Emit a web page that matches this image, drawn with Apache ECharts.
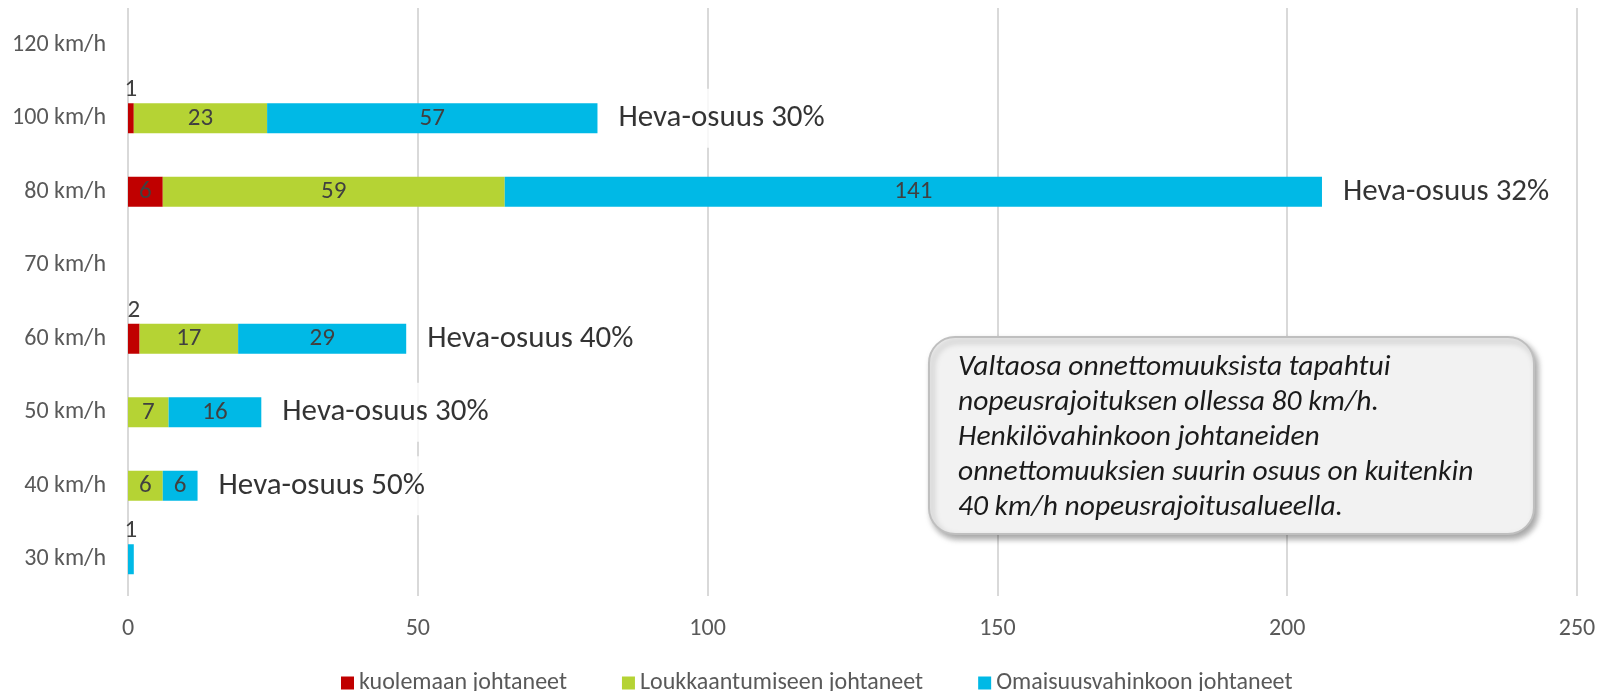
<!DOCTYPE html>
<html>
<head>
<meta charset="utf-8">
<script src="https://cdn.jsdelivr.net/npm/echarts@6/dist/echarts.min.js"></script>
<style>
  html, body { margin: 0; padding: 0; background: #fff; }
  #chart { width: 1608px; height: 691px; }
</style>
</head>
<body>
<div id="chart"></div>
<script>
// nopeusrajoitukset (alhaalta ylös)
const categories = ['30 km/h', '40 km/h', '50 km/h', '60 km/h', '70 km/h', '80 km/h', '100 km/h', '120 km/h']
const kuolema = [null, null, null, 2, null, 6, 1, null]
const loukkaantuminen = [null, 6, 7, 17, null, 59, 23, null]
const omaisuus = [1, 6, 16, 29, null, 141, 57, null]
// henkilövahinkojen osuus (%)
const hevaOsuus = [null, 50, 30, 40, null, 32, 30, null]
const xTicks = [0, 50, 100, 150, 200, 250]

const noteLines = [
  'Valtaosa onnettomuuksista tapahtui',
  'nopeusrajoituksen ollessa 80 km/h.',
  'Henkilövahinkoon johtaneiden',
  'onnettomuuksien suurin osuus on kuitenkin',
  '40 km/h nopeusrajoitusalueella.'
]

const font = "Carlito, Lato, sans-serif"

// pienet arvot näytetään palkin yläpuolella
function withLabels(arr) {
  return arr.map(v => {
    if (v !== null && v < 3) {
      return { value: v, label: { position: 'top', distance: 1 } }
    }
    return v
  })
}

const totals = categories.map((c, i) => (kuolema[i] || 0) + (loukkaantuminen[i] || 0) + (omaisuus[i] || 0))
const hevaData = []
hevaOsuus.forEach((h, i) => {
  if (h !== null) hevaData.push({ value: [totals[i], i], heva: h })
})

const chart = echarts.init(document.getElementById('chart'))

const barLabel = {
  show: true,
  position: 'inside',
  color: '#404040',
  fontSize: 25,
  fontFamily: font
}

const option = {
  animation: false,
  grid: { left: 128, right: 31, top: 8, bottom: 95 },
  legend: {
    top: 666,
    left: 336,
    itemWidth: 13,
    itemHeight: 13,
    itemGap: 55,
    icon: 'rect',
    textStyle: { color: '#595959', fontSize: 24, fontFamily: font },
    data: ['kuolemaan johtaneet', 'Loukkaantumiseen johtaneet', 'Omaisuusvahinkoon johtaneet']
  },
  xAxis: {
    type: 'value',
    min: xTicks[0],
    max: xTicks[xTicks.length - 1],
    interval: 50,
    axisLine: { show: false },
    axisTick: { show: false },
    splitLine: { lineStyle: { color: '#d9d9d9', width: 2 } },
    axisLabel: { color: '#595959', fontSize: 24, fontFamily: font, margin: 21 }
  },
  yAxis: {
    type: 'category',
    data: categories,
    axisLine: { show: false },
    axisTick: { show: false },
    axisLabel: { color: '#595959', fontSize: 24, fontFamily: font, margin: 22 }
  },
  series: [
    {
      name: 'kuolemaan johtaneet',
      type: 'bar',
      stack: 'yht',
      barWidth: 30,
      itemStyle: { color: '#c00000' },
      label: barLabel,
      data: withLabels(kuolema)
    },
    {
      name: 'Loukkaantumiseen johtaneet',
      type: 'bar',
      stack: 'yht',
      barWidth: 30,
      itemStyle: { color: '#b5d334' },
      label: barLabel,
      data: withLabels(loukkaantuminen)
    },
    {
      name: 'Omaisuusvahinkoon johtaneet',
      type: 'bar',
      stack: 'yht',
      barWidth: 30,
      itemStyle: { color: '#00b9e6' },
      label: barLabel,
      data: withLabels(omaisuus)
    },
    {
      name: 'heva',
      type: 'scatter',
      symbolSize: 0,
      z: 5,
      label: {
        show: true,
        position: 'right',
        distance: 18,
        color: '#000',
        fontSize: 31,
        fontFamily: font,
        backgroundColor: '#fff',
        padding: [14, 3],
        formatter: p => 'Heva-osuus ' + p.data.heva + '%'
      },
      data: hevaData
    }
  ],
  graphic: [
    {
      type: 'rect',
      left: 928,
      top: 336,
      z: 100,
      shape: { width: 605, height: 197, r: 26 },
      style: {
        fill: '#f2f2f2',
        stroke: '#bfbfbf',
        lineWidth: 2,
        shadowBlur: 6,
        shadowOffsetX: 3,
        shadowOffsetY: 4,
        shadowColor: 'rgba(0,0,0,0.35)'
      }
    },
    {
      type: 'text',
      left: 958,
      top: 350,
      z: 101,
      style: {
        text: noteLines.join('\n'),
        font: 'italic 29.5px ' + font,
        lineHeight: 35,
        fill: '#1a1a1a'
      }
    }
  ]
}

chart.setOption(option)
</script>
</body>
</html>
